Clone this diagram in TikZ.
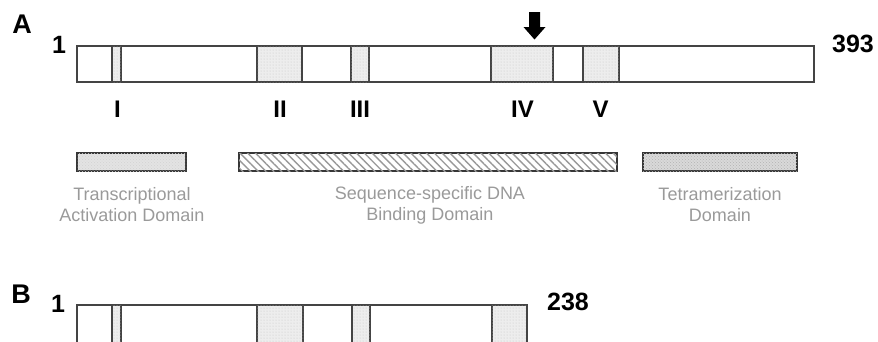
\documentclass[tikz,border=0pt]{standalone}
\usepackage{fontspec}
\setmainfont{Liberation Sans}
\usetikzlibrary{patterns,patterns.meta}
\definecolor{edge}{HTML}{444444}
\definecolor{txtgray}{HTML}{9A9A9A}
\begin{document}
\begin{tikzpicture}[x=1pt,y=-1pt,
  barbox/.style={draw=edge, line width=1.1pt, fill=white},
  segbox/.style={draw=edge, line width=1.1pt, fill=gray!14, postaction={pattern=dots, pattern color=gray!45}},
  tadbox/.style={draw=edge!80!black, line width=1.3pt, fill=gray!22, postaction={pattern=crosshatch dots, pattern color=gray!35}},
  dbdbox/.style={draw=edge!80!black, line width=1.3pt, fill=white, postaction={pattern={Lines[angle=-45, distance=5.5pt, line width=1.4pt]}, pattern color=gray!80}},
  tetbox/.style={draw=edge!80!black, line width=1.3pt, fill=gray!30, postaction={pattern=crosshatch dots, pattern color=gray!60}},
  panel/.style={font=\fontsize{27}{29}\selectfont\bfseries, inner sep=0pt},
  num/.style={font=\fontsize{25}{27}\selectfont\bfseries, inner sep=0pt},
  roman/.style={font=\fontsize{24}{26}\selectfont\bfseries, inner sep=0pt},
  legtxt/.style={font=\fontsize{18}{21}\selectfont, text=txtgray, align=center, inner sep=0pt}]
\useasboundingbox (0,0) rectangle (878,341);
% ---- Panel A ----
\node[panel] (A) at (22,24) {A};
\node[num] (a1) at (59,45) {1};
\node[num] (a393) at (853,44) {393};
\draw[barbox] (77,46) rectangle (814,82);
\draw[segbox] (112,46) rectangle (121,82);
\draw[segbox] (257,46) rectangle (302,82);
\draw[segbox] (351,46) rectangle (369,82);
\draw[segbox] (491,46) rectangle (553,82);
\draw[segbox] (583,46) rectangle (619,82);
\coordinate (arrtop) at (534.5,12);
\coordinate (arrtip) at (534.5,39.5);
\fill[black] (529,12) -- (540,12) -- (540,27) -- (545.5,27) -- (arrtip) -- (523.5,27) -- (529,27) -- cycle;
\node[roman] (rI) at (117.5,109) {I};
\node[roman] (rII) at (280,109) {II};
\node[roman] (rIII) at (360,109) {III};
\node[roman] (rIV) at (522.5,109) {IV};
\node[roman] (rV) at (600.5,109) {V};
% ---- Legend ----
\draw[tadbox] (77,153) rectangle (186,171);
\draw[dbdbox] (239,153) rectangle (617,171);
\draw[tetbox] (643,153) rectangle (797,171);
\node[legtxt] (tad) at (132,205) {Transcriptional\\Activation Domain};
\node[legtxt] (dbd) at (430,205) {Sequence-specific DNA\\Binding Domain};
\node[legtxt] (tet) at (720,205) {Tetramerization\\Domain};
% ---- Panel B ----
\node[panel] (B) at (21,294) {B};
\node[num] (b1) at (58,304) {1};
\node[num] (b238) at (568,302) {238};
\draw[barbox] (77,305) rectangle (527,352);
\draw[segbox] (112,305) rectangle (121,352);
\draw[segbox] (257,305) rectangle (303,352);
\draw[segbox] (352,305) rectangle (370,352);
\draw[segbox] (492,305) rectangle (527,352);
\end{tikzpicture}
\end{document}
